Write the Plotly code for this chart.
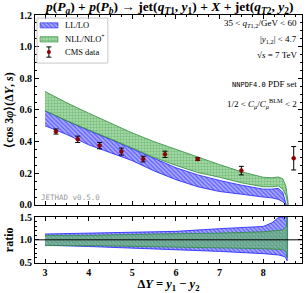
import plotly.graph_objects as go

# ---------------- data ----------------
# main panel bands
nll_x = [3.0, 3.5, 4.0, 4.5, 5.0, 5.5, 6.0, 6.5, 7.0, 7.5, 8.0, 8.2, 8.35, 8.45, 8.52, 8.57]
nll_hi = [0.717, 0.645, 0.58, 0.515, 0.455, 0.40, 0.35, 0.30, 0.255, 0.21, 0.175, 0.172, 0.177, 0.165, 0.12, 0.02]
nll_lo = [0.595, 0.53, 0.475, 0.42, 0.36, 0.30, 0.25, 0.205, 0.175, 0.14, 0.115, 0.115, 0.12, 0.10, 0.06, 0.0]

ll_x = [3.0, 3.5, 4.0, 4.5, 5.0, 5.5, 6.0, 6.5, 7.0, 7.5, 8.0, 8.2, 8.35, 8.45, 8.53]
ll_hi = [0.595, 0.53, 0.47, 0.415, 0.355, 0.29, 0.235, 0.19, 0.155, 0.125, 0.10, 0.10, 0.105, 0.08, 0.0]
ll_lo = [0.50, 0.445, 0.38, 0.33, 0.28, 0.215, 0.16, 0.115, 0.085, 0.068, 0.05, 0.045, 0.035, 0.02, 0.0]

# CMS data
cms_x = [3.25, 3.75, 4.25, 4.75, 5.25, 5.75, 6.5, 7.5, 8.7]
cms_y = [0.464, 0.415, 0.375, 0.337, 0.29, 0.32, 0.29, 0.217, 0.295]
cms_err = [0.016, 0.02, 0.02, 0.022, 0.018, 0.02, 0.008, 0.027, 0.074]

# ratio panel bands
rll_x = [3.0, 4.0, 5.0, 6.0, 7.0, 8.0, 8.2, 8.35, 8.5, 8.55]
rll_hi = [1.13, 1.15, 1.17, 1.19, 1.25, 1.30, 1.38, 1.50, 1.52, 1.52]
rll_lo = [0.88, 0.85, 0.82, 0.78, 0.74, 0.69, 0.68, 0.66, 0.62, 0.53]

rnll_x = [3.0, 4.0, 5.0, 6.0, 7.0, 8.0, 8.45, 8.53, 8.56]
rnll_hi = [1.10, 1.10, 1.12, 1.13, 1.15, 1.18, 1.22, 1.30, 1.52]
rnll_lo = [0.87, 0.87, 0.86, 0.84, 0.82, 0.80, 0.78, 0.72, 0.60]

legend_labels = ["LL/LO", "NLL/NLO<sup>+</sup>", "CMS data"]

FONT = "Liberation Serif"
BLUE = "#1f1fff"
GREEN = "#2e8b3e"
BLUE_BG = "rgba(120,120,255,0.6)"
GREEN_FG = "rgba(50,150,60,0.85)"
GREEN_BG = "rgba(120,200,120,0.6)"
DARKRED = "#8b0000"

def pattern(color, bg, shape):
    return dict(shape=shape, fgcolor=color, bgcolor=bg, size=3, solidity=0.5)

def band(x, lo, hi, xa, ya, name, color, bg, shape, line_color):
    return go.Scatter(
        x=list(x) + list(x)[::-1], y=list(hi) + list(lo)[::-1],
        xaxis=xa, yaxis=ya, fill="toself", mode="lines",
        line=dict(color=line_color, width=0.8),
        fillcolor=bg, fillpattern=pattern(color, bg, shape),
        name=name, showlegend=False, hoverinfo="skip")

fig = go.Figure()
fig.add_trace(band(ll_x, ll_lo, ll_hi, "x2", "y2", legend_labels[0], BLUE, BLUE_BG, "\\", BLUE))
fig.add_trace(band(nll_x, nll_lo, nll_hi, "x2", "y2", legend_labels[1], GREEN_FG, GREEN_BG, ".", GREEN))
fig.add_trace(go.Scatter(
    x=cms_x, y=cms_y, xaxis="x2", yaxis="y2", mode="markers", name=legend_labels[2], showlegend=False,
    marker=dict(color=DARKRED, size=4, line=dict(color=DARKRED, width=0.5)),
    error_y=dict(type="data", array=cms_err, color="black", thickness=1, width=2.5)))

fig.add_trace(band(rll_x, rll_lo, rll_hi, "x", "y", "LL/LO", BLUE, BLUE_BG, "\\", BLUE))
fig.add_trace(band(rnll_x, rnll_lo, rnll_hi, "x", "y", "NLL", GREEN_FG, GREEN_BG, ".", GREEN))

# ---- legend keys (drawn on an invisible overlay axis spanning the main panel, 0..1) ----
def key_box(x0, x1, y0, y1, color, bg, shape, line_color):
    return go.Scatter(x=[x0, x1, x1, x0, x0], y=[y0, y0, y1, y1, y0], xaxis="x3", yaxis="y3",
                      fill="toself", mode="lines", line=dict(color=line_color, width=0.6),
                      fillcolor=bg, fillpattern=pattern(color, bg, shape),
                      showlegend=False, hoverinfo="skip")

fig.add_trace(key_box(0.019, 0.086, 0.932, 0.959, BLUE, BLUE_BG, "\\", BLUE))
fig.add_trace(key_box(0.019, 0.086, 0.858, 0.886, GREEN_FG, GREEN_BG, ".", GREEN))
fig.add_trace(go.Scatter(x=[0.052], y=[0.805], xaxis="x3", yaxis="y3", mode="markers",
                         marker=dict(color=DARKRED, size=4),
                         error_y=dict(type="data", array=[0.027], color="black", thickness=1, width=2.5),
                         showlegend=False, hoverinfo="skip"))

axis_common = dict(showline=True, linecolor="black", linewidth=1, mirror="ticks",
                   ticks="inside", ticklen=4, tickcolor="black", showgrid=False, zeroline=False,
                   tickfont=dict(family=FONT, size=10, color="black", weight="bold"))

fig.update_layout(
    width=306, height=293,
    margin=dict(l=35, r=4, t=15, b=30),
    paper_bgcolor="white", plot_bgcolor="white",
    showlegend=False,
    xaxis=dict(domain=[0, 1], range=[2.77, 8.89], anchor="y", dtick=1,
               minor=dict(ticks="inside", ticklen=2, dtick=0.25, tickcolor="black"),
               title=dict(text="<b>Δ<i>Y</i> = <i>y</i><sub>1</sub> − <i>y</i><sub>2</sub></b>",
                          font=dict(family=FONT, size=12.5, color="black"), standoff=2),
               **axis_common),
    yaxis=dict(domain=[0, 0.187], range=[0.48, 1.52], anchor="x",
               tickvals=[0.5, 1.0, 1.5], ticktext=["0.5", "1.0", "1.5"],
               minor=dict(ticks="inside", ticklen=2, dtick=0.1, tickcolor="black"),
               title=dict(text="<b>ratio</b>", font=dict(family=FONT, size=12, color="black"), standoff=3),
               **axis_common),
    xaxis2=dict(domain=[0, 1], range=[2.77, 8.89], anchor="y2", matches="x", dtick=1,
                showticklabels=False,
                minor=dict(ticks="inside", ticklen=2, dtick=0.25, tickcolor="black"),
                **axis_common),
    yaxis2=dict(domain=[0.234, 1], range=[0.0, 1.2], anchor="x2", dtick=0.2, tickformat=".1f",
                minor=dict(ticks="inside", ticklen=2, dtick=0.05, tickcolor="black"),
                title=dict(text="<b>⟨cos 3<i>φ</i>⟩(Δ<i>Y</i>, <i>s</i>)</b>",
                           font=dict(family=FONT, size=12, color="black"), standoff=3),
                **axis_common),
    xaxis3=dict(overlaying="x2", range=[0, 1], anchor="y3", visible=False, fixedrange=True),
    yaxis3=dict(overlaying="y2", range=[0, 1], anchor="x3", visible=False, fixedrange=True),
    shapes=[dict(type="line", xref="x", yref="y", x0=2.77, x1=8.89, y0=1.0, y1=1.0,
                 line=dict(color="black", width=1)),
            dict(type="rect", xref="x3", yref="y3", x0=0.0075, x1=0.273, y0=0.747, y1=0.984,
                 line=dict(color="#c8c8c8", width=1), fillcolor="rgba(0,0,0,0)", layer="above")],
)

title = ("<b><i>p</i>(<i>P<sub>a</sub></i>) + <i>p</i>(<i>P<sub>b</sub></i>) → jet(<i>q</i><sub><i>T</i>1</sub>, <i>y</i><sub>1</sub>)"
         " + <i>X</i> + jet(<i>q</i><sub><i>T</i>2</sub>, <i>y</i><sub>2</sub>)</b>")
ann = [
    dict(text=title, x=0.5, y=1.0, xref="paper", yref="paper", xanchor="center", yanchor="bottom",
         font=dict(family=FONT, size=13.5, color="black"), yshift=-3, showarrow=False),
]
right_texts = [
    ("35 < <i>q</i><sub><i>T</i>1,2</sub>/GeV < 60", 0.965),
    ("|<i>y</i><sub>1,2</sub>| < 4.7", 0.90),
    ("√<i>s</i> = 7 TeV", 0.84),
    ("<span style='font-family:DejaVu Sans Mono;font-size:7px'>NNPDF4.0</span> PDF set", 0.72),
    ("1/2 < <i>C<sub>μ</sub></i>/<i>C</i><sub><i>μ</i></sub><sup>BLM</sup> < 2", 0.645),
]
for t, yy in right_texts:
    ann.append(dict(text=t, x=0.99, y=yy, xref="paper", yref="paper", xanchor="right", yanchor="middle",
                    showarrow=False, font=dict(family=FONT, size=9, color="black")))
for lab, yy in zip(legend_labels, [0.947, 0.874, 0.805]):
    ann.append(dict(text=lab, x=0.105, y=yy, xref="x3", yref="y3", xanchor="left", yanchor="middle",
                    showarrow=False, font=dict(family=FONT, size=8.5, color="black")))
ann.append(dict(text="JETHAD v0.5.0", x=0.015, y=0.265, xref="paper", yref="paper",
                xanchor="left", yanchor="middle", showarrow=False,
                font=dict(family="DejaVu Sans Mono", size=7.5, color="#9a9a9a")))
fig.update_layout(annotations=ann)

fig.write_html("out.html", config={"displayModeBar": False},
               post_script="document.body.style.margin='0px';document.body.style.overflow='hidden';")
